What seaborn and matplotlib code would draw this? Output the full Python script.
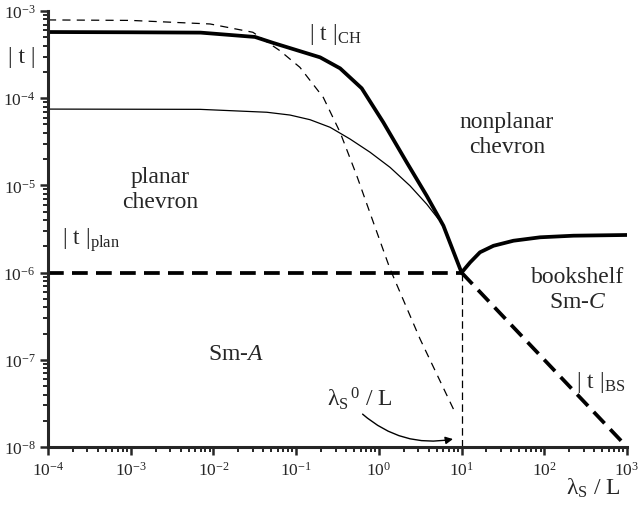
import numpy as np
import pandas as pd
import matplotlib
matplotlib.use("Agg")
import matplotlib.pyplot as plt
import seaborn as sns
from matplotlib.ticker import FixedLocator, NullFormatter

# ---- data ----
ch_x = [1e-4, 1e-3, 7e-3, 0.0318, 0.053, 0.195, 0.34, 0.62, 1.13, 2.17, 3.79, 6.03, 10,
        12.7, 16.7, 24.3, 42.4, 89, 225, 1000]
ch_y = [5.74e-4, 5.7e-4, 5.65e-4, 5.04e-4, 4.3e-4, 2.94e-4, 2.2e-4, 1.3e-4, 5.3e-5, 1.84e-5,
        7.6e-6, 3.45e-6, 1.0e-6, 1.31e-6, 1.71e-6, 2.03e-6, 2.32e-6, 2.54e-6, 2.65e-6, 2.7e-6]

thin_x = [1e-4, 6.9e-3, 0.0442, 0.0843, 0.147, 0.257, 0.449, 0.783, 1.366, 2.38, 3.79, 5.24]
thin_y = [7.5e-5, 7.45e-5, 6.9e-5, 6.41e-5, 5.67e-5, 4.64e-5, 3.4e-5, 2.4e-5, 1.61e-5,
          9.9e-6, 6.1e-6, 4.12e-6]

dash_x = [1e-4, 1e-3, 9.1e-3, 0.03, 0.0638, 0.111, 0.213, 0.34, 0.541, 0.857, 1.366,
          3.15, 7.96, 8.3]
dash_y = [7.9e-4, 7.8e-4, 7.1e-4, 5.7e-4, 3.5e-4, 2.26e-4, 1.02e-4, 4.06e-5, 1.29e-5,
          3.78e-6, 1.1e-6, 1.73e-7, 2.73e-8, 2.5e-8]

plan_x = [1e-4, 10]
plan_y = [1e-6, 1e-6]

bs_x = [10, 1000]
bs_y = [1e-6, 1e-8]

vert_x = [10, 10]
vert_y = [1e-8, 1e-6]

x_ticks = [1e-4, 1e-3, 1e-2, 1e-1, 1e0, 1e1, 1e2, 1e3]
y_ticks = [1e-8, 1e-7, 1e-6, 1e-5, 1e-4, 1e-3]

sns.set_style("ticks")
plt.rcParams['font.family'] = ['Liberation Serif', 'DejaVu Serif']
plt.rcParams['mathtext.fontset'] = 'custom'
plt.rcParams['mathtext.rm'] = 'Liberation Serif'
plt.rcParams['mathtext.it'] = 'Liberation Serif:italic'
plt.rcParams['mathtext.bf'] = 'Liberation Serif:bold'
plt.rcParams['axes.unicode_minus'] = False

W, H = 639, 510
fig = plt.figure(figsize=(W / 100, H / 100), dpi=100)
ax = fig.add_axes([48 / W, 1 - 448 / H, (627 - 48) / W, (448 - 12) / H])


def draw(x, y, lw, dashes=None):
    df = pd.DataFrame({"x": x, "y": y})
    sns.lineplot(data=df, x="x", y="y", ax=ax, color="black", lw=lw, sort=False,
                 estimator=None)
    line = ax.get_lines()[-1]
    if dashes is not None:
        line.set_dashes(dashes)
    line.set_solid_joinstyle("round")
    return line


draw(dash_x, dash_y, 0.9, (6.5, 5))
draw(thin_x, thin_y, 0.9)
draw(vert_x, vert_y, 0.9, (6, 3.5))
draw(plan_x, plan_y, 2.7, (4.2, 2.2))
draw(bs_x, bs_y, 2.7, (4.2, 2.2))
draw(ch_x, ch_y, 2.7)

ax.set_xscale("log")
ax.set_yscale("log")
ax.set_xlim(1e-4, 1e3)
ax.set_ylim(1e-8, 1e-3)
ax.set_xlabel("")
ax.set_ylabel("")

for s in ["top", "right"]:
    ax.spines[s].set_visible(False)
for s in ["left", "bottom"]:
    ax.spines[s].set_linewidth(2.2)

ax.xaxis.set_major_locator(FixedLocator(x_ticks))
ax.yaxis.set_major_locator(FixedLocator(y_ticks))
x_minor = [m * t for t in x_ticks[:-1] for m in range(2, 10)]
y_minor = [m * t for t in y_ticks[:-1] for m in range(2, 10)]
ax.xaxis.set_minor_locator(FixedLocator(x_minor))
ax.yaxis.set_minor_locator(FixedLocator(y_minor))
ax.xaxis.set_minor_formatter(NullFormatter())
ax.yaxis.set_minor_formatter(NullFormatter())
ax.tick_params(which="major", direction="out", length=6, width=1.8, labelsize=12.5)
ax.tick_params(which="minor", direction="out", length=3.5, width=1.4)
ax.tick_params(axis="x", which="major", pad=4)
ax.tick_params(axis="y", which="major", pad=3)
ax.grid(False)

fs = 17


def put(px, py, s, **kw):
    fig.text(px / W, 1 - py / H, s, fontsize=fs, **kw)


put(8, 63, "| t |")
put(309, 40, r"| t |$_{\mathrm{CH}}$")
put(507, 135, "nonplanar\nchevron", ha="center", va="center", linespacing=1.25)
put(160, 190, "planar\nchevron", ha="center", va="center", linespacing=1.25)
put(62, 245, r"| t |$_{\mathrm{plan}}$")
put(236, 360, r"Sm-$\mathit{A}$", ha="center")
put(578, 290, "bookshelf\nSm-$\\mathit{C}$", ha="center", va="center", linespacing=1.25)
put(576, 388, r"| t |$_{\mathrm{BS}}$")
put(327, 406, r"λ$_{\mathrm{S}}{}^{\,0}$ / L")
put(566, 495, r"λ$_{\mathrm{S}}$ / L")

ax.annotate("", xy=(8.5, 1.25e-8), xytext=(0.6, 2.5e-8),
            arrowprops=dict(arrowstyle="-|>", color="black", lw=1.0,
                            connectionstyle="arc3,rad=0.25", mutation_scale=11))

fig.savefig("out.png", dpi=100)
